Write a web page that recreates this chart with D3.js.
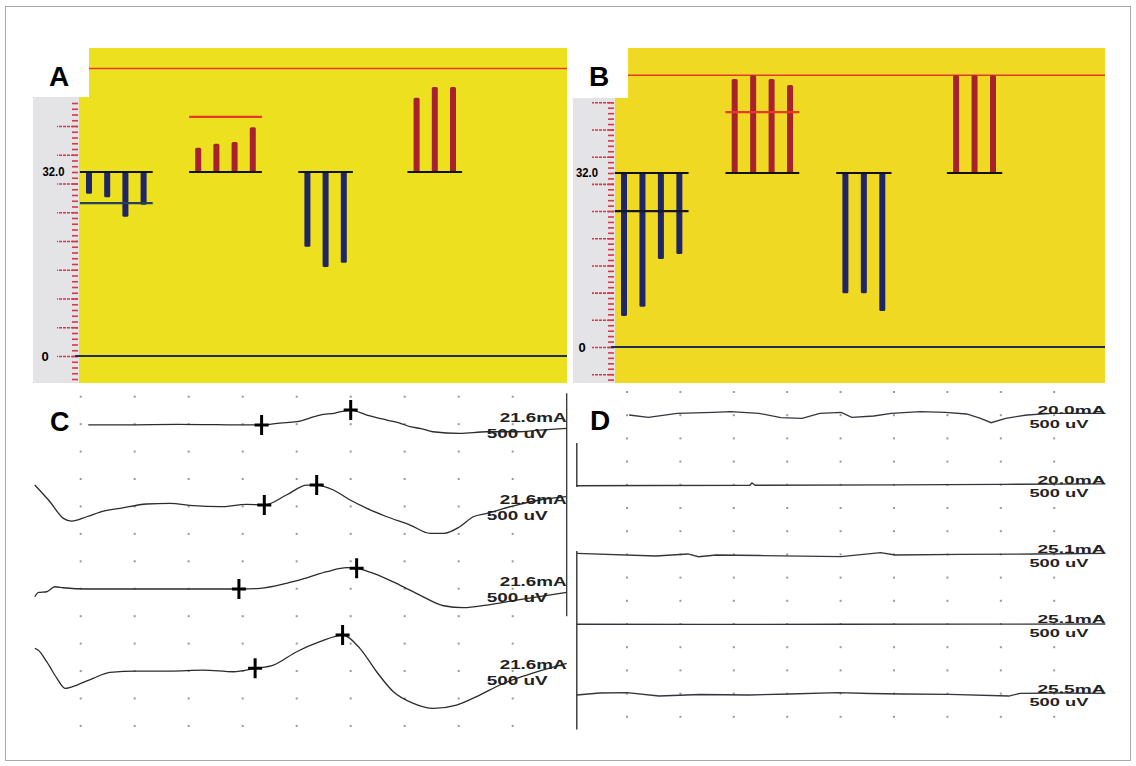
<!DOCTYPE html>
<html>
<head>
<meta charset="utf-8">
<script src="https://cdn.jsdelivr.net/npm/d3@7"></script>
<style>
  body { margin: 0; background: #fff; }
  svg { display: block; }
  text { font-family: 'Liberation Sans', Arial, sans-serif; }
</style>
</head>
<body>
<script>
// ---- top panels: bar values (32.0 = baseline, 50 = upper limit line)
const baseValue = 32;
const ceilValue = 50;
const groupSlots = [0, 6, 12, 18];

const aDown1 = [28.2, 27.6, 24.2, 26.3];
const aUp1 = [36.2, 36.9, 37.2, 39.8];
const aDown2 = [19.0, 15.5, 16.2];
const aUp2 = [44.9, 46.8, 46.8];
const aLimits = [26.6, 41.6];

const bDown1 = [5.7, 7.4, 16.2, 17.1];
const bUp1 = [49.3, 50.0, 49.3, 48.2];
const bDown2 = [9.9, 9.9, 6.6];
const bUp2 = [50, 50, 50];
const bLimits = [25.0, 43.2];

// ---- bottom panels: traces as [time (div), amplitude (uV)]
const c1 = [[1.14, -15], [2.0, -12], [2.8, -5], [3.5, -10], [4.35, -15], [4.69, 20], [5.0, 44], [5.43, 166],
  [5.71, 202], [6.0, 257], [6.3, 166], [6.67, 75], [6.91, 20], [7.1, -47], [7.3, -80], [7.52, -139],
  [8.02, -168], [8.52, -139], [9.07, -139], [9.5, -108], [10, -77]];
const c2 = [[0.15, 390], [0.43, 86], [0.68, -217], [0.83, -266], [1.11, -188], [1.42, -84], [1.73, -35],
  [2.22, 44], [2.65, 57], [3.09, 13], [3.58, -5], [4.07, 38], [4.4, 26], [4.81, 208], [5.19, 390],
  [5.37, 390], [5.68, 299], [5.99, 117], [6.3, -35], [6.67, -188], [7.1, -339], [7.47, -490],
  [7.72, -490], [8.02, -370], [8.27, -188], [8.52, -126], [9.07, 26], [9.5, 117], [10, 177]];
const c3 = [[0.15, -146], [0.22, -66], [0.37, -55], [0.52, 36], [0.68, 18], [1.11, -5], [1.73, -5],
  [2.65, -5], [3.58, -5], [3.93, -5], [4.32, 7], [4.81, 98], [5.19, 200], [5.56, 310], [5.93, 383],
  [6.11, 372], [6.42, 281], [6.91, 67], [7.28, -115], [7.72, -310], [8.09, -346], [8.52, -297],
  [9.07, -206], [10, -66]];
const c4 = [[0.15, 414], [0.21, 383], [0.37, 170], [0.56, -133], [0.71, -315], [0.93, -255], [1.23, -133],
  [1.54, -24], [2.04, 0], [2.65, 0], [3.27, 18], [3.83, -13], [4.23, 49], [4.57, 109], [5.0, 352],
  [5.43, 534], [5.85, 656], [6.17, 414], [6.48, -13], [6.79, -377], [7.16, -589], [7.53, -680],
  [7.96, -620], [8.39, -438], [8.76, -255], [9.26, -73], [10, 140]];
const cMarks = [[[4.35, -15], [6.0, 257]], [[4.4, 26], [5.37, 390]], [[3.93, -5], [6.11, 372]], [[4.23, 49], [5.85, 656]]];
const cCurrent = ['21.6mA', '21.6mA', '21.6mA', '21.6mA'];

const d1 = [[1.04, 4], [1.4, -45], [1.94, 41], [2.61, 62], [2.94, 75], [3.47, 41], [3.88, -54], [4.28, -67],
  [4.61, 41], [5.01, 62], [5.21, -45], [5.62, -17], [5.95, 41], [6.49, 75], [6.96, 62], [7.36, 26],
  [7.62, -67], [7.82, -162], [8.09, -67], [8.49, 4], [8.96, 41], [9.96, 41]];
const d2 = [[0.06, -20], [1.5, -15], [3.3, -10], [3.34, 40], [3.4, -10], [6, 0], [8, 10], [9.96, 20]];
const d3v = [[0.06, 24], [1.54, -34], [2.14, 9], [2.34, -50], [2.67, -13], [3.49, -24], [5.01, -50],
  [5.75, 37], [6.02, -13], [7.24, 0], [8.62, 9], [9.96, 24]];
const d4 = [[0.06, -5], [2.5, -8], [5, -5], [7.5, -2], [9.96, 0]];
const d5 = [[0.06, -30], [0.49, 13], [1.0, 19], [1.6, -52], [2.37, -19], [3.28, -30], [4.05, -9], [4.95, 19],
  [5.55, 2], [6.15, -9], [7.04, -15], [8.15, -52], [8.36, 6], [9.1, 13], [9.96, 6]];
const dCurrent = ['20.0mA', '20.0mA', '25.1mA', '25.1mA', '25.5mA'];
const gainLabel = '500 uV';

const svg = d3.select('body').append('svg')
  .attr('width', 1136)
  .attr('height', 766);

// outer frame
svg.append('rect')
  .attr('x', 5.5).attr('y', 6.5)
  .attr('width', 1125).attr('height', 754)
  .attr('fill', 'none')
  .attr('stroke', '#a9a9a9');

const navy = '#1f2565';
const crimson = '#a8222e';
const limitRed = '#e5392a';

function barPanel(p) {
  const g = svg.append('g');
  const y = d3.scaleLinear().domain([0, baseValue]).range(p.yRange);
  const x = d3.scaleLinear().domain([0, 20]).range(p.xRange);

  // ruler strip and yellow field
  g.append('rect')
    .attr('x', p.stripX).attr('y', p.stripTop)
    .attr('width', p.plotX - p.stripX).attr('height', p.bottom - p.stripTop)
    .attr('fill', '#e4e4e6');
  g.append('rect')
    .attr('x', p.plotX).attr('y', p.stripTop)
    .attr('width', p.right - p.plotX).attr('height', p.bottom - p.stripTop)
    .attr('fill', p.yellow);
  g.append('rect')
    .attr('x', p.topX).attr('y', p.top)
    .attr('width', p.right - p.topX).attr('height', p.bottom - p.top)
    .attr('fill', p.yellow);

  // red ruler ticks
  const lo = Math.ceil(y.invert(p.bottom - 2));
  const hi = Math.floor(y.invert(p.stripTop + 3));
  const minor = g.append('g')
    .attr('transform', `translate(${p.plotX - 1},0)`)
    .call(d3.axisLeft(y).tickValues(d3.range(lo, hi + 1)).tickSize(6).tickFormat(''));
  const major = g.append('g')
    .attr('transform', `translate(${p.plotX - 1},0)`)
    .call(d3.axisLeft(y).tickValues(d3.range(Math.ceil(lo / 5) * 5, hi + 1, 5)).tickSize(p.majorLen).tickFormat(''));
  [minor, major].forEach((a) => {
    a.select('.domain').remove();
    a.selectAll('line').attr('stroke', '#d8364a').attr('stroke-width', 1.6);
  });
  major.selectAll('line').attr('stroke-dasharray', '3,1');

  // axis numbers
  g.append('text')
    .attr('x', p.labelX).attr('y', y(baseValue))
    .attr('dy', '0.35em')
    .attr('text-anchor', 'middle')
    .attr('font-size', 12).attr('font-weight', 'bold')
    .attr('textLength', 22).attr('lengthAdjust', 'spacingAndGlyphs')
    .text('32.0');
  g.append('text')
    .attr('x', p.zeroX).attr('y', y(0))
    .attr('dy', '0.35em')
    .attr('text-anchor', 'middle')
    .attr('font-size', 13).attr('font-weight', 'bold')
    .text('0');

  // zero line and upper limit line
  g.append('line')
    .attr('x1', p.plotX - 4).attr('x2', p.right)
    .attr('y1', y(0)).attr('y2', y(0))
    .attr('stroke', '#1e2f55').attr('stroke-width', 1.8);
  g.append('line')
    .attr('x1', p.topX).attr('x2', p.right)
    .attr('y1', y(ceilValue)).attr('y2', y(ceilValue))
    .attr('stroke', limitRed).attr('stroke-width', 1.5);

  // bar groups
  const groups = [
    { vals: p.down1, color: navy },
    { vals: p.up1, color: crimson },
    { vals: p.down2, color: navy },
    { vals: p.up2, color: crimson },
  ];
  groups.forEach((grp, gi) => {
    const s0 = groupSlots[gi];
    g.selectAll(null)
      .data(grp.vals)
      .enter().append('rect')
      .attr('x', (d, i) => x(s0 + i) - 3)
      .attr('y', d => Math.min(y(d), y(baseValue)))
      .attr('width', 6)
      .attr('height', d => Math.abs(y(d) - y(baseValue)))
      .attr('rx', 1.5)
      .attr('fill', grp.color);
    g.append('line')
      .attr('x1', x(s0 - 0.5)).attr('x2', x(s0 + grp.vals.length - 0.5))
      .attr('y1', y(baseValue)).attr('y2', y(baseValue))
      .attr('stroke', '#111').attr('stroke-width', 2.2);
  });

  // threshold lines over first two groups
  p.limits.forEach((v, gi) => {
    const n = groups[gi].vals.length;
    g.append('line')
      .attr('x1', x(groupSlots[gi] - 0.5)).attr('x2', x(groupSlots[gi] + n - 0.5))
      .attr('y1', y(v)).attr('y2', y(v))
      .attr('stroke', p.limitColors[gi]).attr('stroke-width', 2.2);
  });

  g.append('text')
    .attr('x', p.letterX).attr('y', 85.5)
    .attr('font-size', 28).attr('font-weight', 'bold')
    .text(p.letter);
}

barPanel({
  letter: 'A', letterX: 49,
  stripX: 33, plotX: 79, topX: 89, right: 567, top: 48, stripTop: 97, bottom: 383,
  yRange: [356, 172], xRange: [89, 453], majorLen: 21, labelX: 53.5, zeroX: 45,
  yellow: '#ece01f',
  down1: aDown1, up1: aUp1, down2: aDown2, up2: aUp2,
  limits: aLimits, limitColors: ['#24405a', limitRed],
});

barPanel({
  letter: 'B', letterX: 589,
  stripX: 573, plotX: 615, topX: 628, right: 1105, top: 48, stripTop: 98, bottom: 383,
  yRange: [347, 173], xRange: [624, 993], majorLen: 22, labelX: 587, zeroX: 582,
  yellow: '#efd923',
  down1: bDown1, up1: bUp1, down2: bDown2, up2: bUp2,
  limits: bLimits, limitColors: ['#15182a', limitRed],
});

// ---- panel C
const xC = d3.scaleLinear().domain([0, 10]).range([26.7, 566.7]);
const rowC = d3.scaleLinear().domain([0, 12]).range([396.7, 725.9]);
const xD = d3.scaleLinear().domain([0, 10]).range([573.6, 1107.6]);
const rowD = d3.scaleLinear().domain([0, 14]).range([392, 716.8]);

function dotGrid(x, row, nRows) {
  const pts = [];
  d3.range(1, 10).forEach((t) => {
    d3.range(0, nRows + 1).forEach((r) => { pts.push([t, r]); });
  });
  svg.append('g').selectAll('rect')
    .data(pts)
    .enter().append('rect')
    .attr('x', d => x(d[0]) - 1)
    .attr('y', d => row(d[1]) - 1)
    .attr('width', 2).attr('height', 2)
    .attr('fill', '#9a9a9a');
}

dotGrid(xC, rowC, 12);
dotGrid(xD, rowD, 14);

function tracePanel(opt) {
  const g = svg.append('g');
  const divPx = opt.row(1) - opt.row(0);
  opt.traces.forEach((tr, i) => {
    const base = opt.row(opt.rows[i]);
    const y = d3.scaleLinear().domain([0, 500]).range([base, base - divPx]);
    const line = d3.line()
      .x(d => opt.x(d[0]))
      .y(d => y(d[1]))
      .curve(opt.curve);
    g.append('path')
      .datum(tr)
      .attr('d', line)
      .attr('fill', 'none')
      .attr('stroke', opt.stroke)
      .attr('stroke-width', 1.3);

    if (opt.marks) {
      opt.marks[i].forEach((m) => {
        const mx = opt.x(m[0]);
        const my = y(m[1]);
        g.append('path')
          .attr('d', `M${mx - 7},${my}H${mx + 7}M${mx},${my - 10}V${my + 10}`)
          .attr('stroke', '#000')
          .attr('stroke-width', 3);
      });
    }

    const right = opt.x(opt.labelEnd);
    g.append('text')
      .attr('x', right - opt.mALen).attr('y', base + opt.mADy)
      .attr('font-size', opt.fontSize).attr('font-weight', 'bold')
      .attr('textLength', opt.mALen).attr('lengthAdjust', 'spacingAndGlyphs')
      .attr('fill', '#222')
      .text(opt.labels[i]);
    g.append('text')
      .attr('x', right - opt.uvOff).attr('y', base + opt.uvDy)
      .attr('font-size', opt.fontSize).attr('font-weight', 'bold')
      .attr('textLength', opt.uvLen).attr('lengthAdjust', 'spacingAndGlyphs')
      .attr('fill', '#222')
      .text(gainLabel);
  });
  return g;
}

tracePanel({
  x: xC, row: rowC, rows: [1, 4, 7, 10],
  traces: [c1, c2, c3, c4], marks: cMarks, labels: cCurrent,
  curve: d3.curveMonotoneX, stroke: '#2b2b2b',
  labelEnd: 10, mALen: 67, mADy: -2.5, uvOff: 80, uvLen: 61, uvDy: 13.5, fontSize: 12.5,
});

tracePanel({
  x: xD, row: rowD, rows: [1, 4, 7, 10, 13],
  traces: [d1, d2, d3v, d4, d5], labels: dCurrent,
  curve: d3.curveLinear, stroke: '#33363d',
  labelEnd: 9.96, mALen: 68, mADy: -1, uvOff: 76, uvLen: 59, uvDy: 12.5, fontSize: 11,
});

// sweep edge lines
svg.append('line')
  .attr('x1', xC(10)).attr('x2', xC(10))
  .attr('y1', rowC(-0.13)).attr('y2', rowC(8))
  .attr('stroke', '#333').attr('stroke-width', 1.3);
[[2.2, 4.1], [6.85, 14.55]].forEach((seg) => {
  svg.append('line')
    .attr('x1', xD(0.06)).attr('x2', xD(0.06))
    .attr('y1', rowD(seg[0])).attr('y2', rowD(seg[1]))
    .attr('stroke', '#333').attr('stroke-width', 1.4);
});

// panel letters
svg.append('text')
  .attr('x', 50).attr('y', 431)
  .attr('font-size', 27).attr('font-weight', 'bold')
  .text('C');
svg.append('text')
  .attr('x', 590).attr('y', 430)
  .attr('font-size', 28).attr('font-weight', 'bold')
  .text('D');
</script>
</body>
</html>
